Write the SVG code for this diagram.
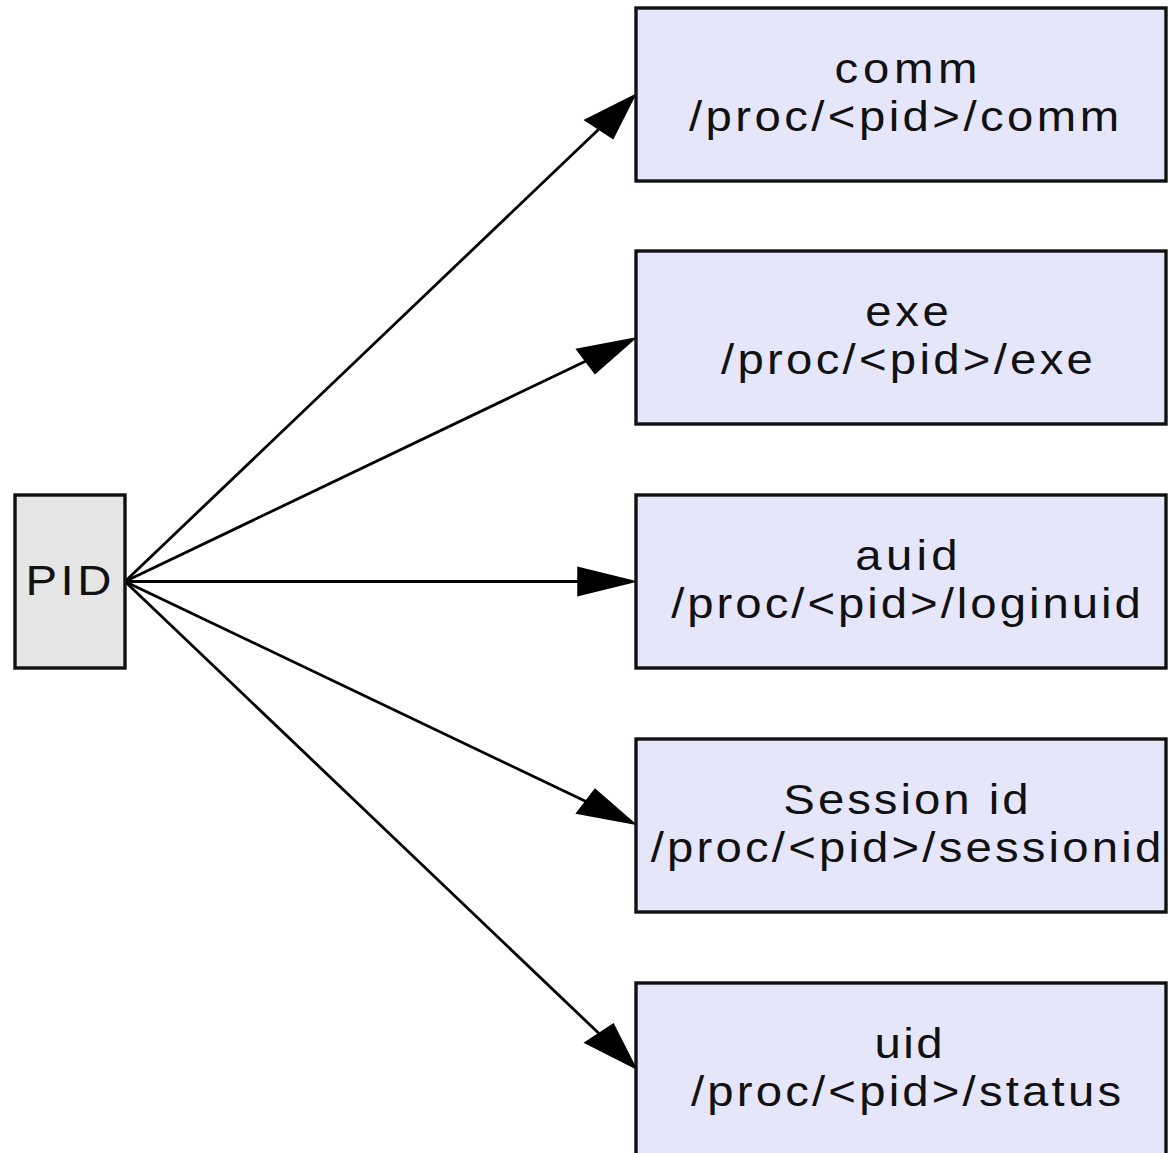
<svg xmlns="http://www.w3.org/2000/svg" width="1168" height="1153" viewBox="0 0 1168 1153">
  <style>
    .box { stroke: #111; stroke-width: 3.4; }
    .src { fill: #e5e5e5; }
    .dst { fill: #e6e6fa; }
    .label { font-family: "Liberation Sans", Arial, sans-serif; font-size: 43px; fill: #111; text-anchor: middle; }
    .edge { stroke: #000; stroke-width: 2.8; fill: none; }
    .head { fill: #000; stroke: #000; stroke-width: 1.5; stroke-linejoin: miter; }
  </style>
  <rect width="1168" height="1153" fill="#ffffff"/>

  <g id="connectors">
    <line class="edge" x1="125" y1="581.5" x2="599" y2="129"/>
    <polygon class="head" points="635,95 585,120 613,138.3"/>
    <line class="edge" x1="125" y1="581.5" x2="586" y2="361"/>
    <polygon class="head" points="635,338.3 576.7,349.3 595,373.3"/>
    <line class="edge" x1="125" y1="581.5" x2="578" y2="581.5"/>
    <polygon class="head" points="635,581.5 578,567.5 578,595.5"/>
    <line class="edge" x1="125" y1="581.5" x2="586" y2="801.5"/>
    <polygon class="head" points="635,824 595,789.3 576.7,813.3"/>
    <line class="edge" x1="125" y1="581.5" x2="599" y2="1033.5"/>
    <polygon class="head" points="636,1068.5 613.3,1024 585,1042.7"/>
  </g>

  <!-- labels are widened 10% horizontally about their centre -->
  <g id="pid">
    <rect class="box src" x="15" y="495" width="110" height="173"/>
    <text class="label" transform="matrix(1.1 0 0 1 -6.85 0)" x="68.5" y="595.5" textLength="78" lengthAdjust="spacing">PID</text>
  </g>

  <g id="comm">
    <rect class="box dst" x="636" y="8" width="530" height="173"/>
    <text class="label" transform="matrix(1.1 0 0 1 -90.6 0)" x="906" y="83.3" textLength="130" lengthAdjust="spacing">comm</text>
    <text class="label" transform="matrix(1.1 0 0 1 -90.4 0)" x="904" y="131.5" textLength="391" lengthAdjust="spacing">/proc/&lt;pid&gt;/comm</text>
  </g>

  <g id="exe">
    <rect class="box dst" x="636" y="251" width="530" height="173"/>
    <text class="label" transform="matrix(1.1 0 0 1 -90.7 0)" x="907" y="326.3" textLength="76" lengthAdjust="spacing">exe</text>
    <text class="label" transform="matrix(1.1 0 0 1 -90.7 0)" x="907" y="374.5" textLength="338" lengthAdjust="spacing">/proc/&lt;pid&gt;/exe</text>
  </g>

  <g id="auid">
    <rect class="box dst" x="636" y="495" width="530" height="173"/>
    <text class="label" transform="matrix(1.1 0 0 1 -90.65 0)" x="906.5" y="570.3" textLength="93" lengthAdjust="spacing">auid</text>
    <text class="label" transform="matrix(1.1 0 0 1 -90.6 0)" x="906" y="618.5" textLength="427" lengthAdjust="spacing">/proc/&lt;pid&gt;/loginuid</text>
  </g>

  <g id="session">
    <rect class="box dst" x="636" y="739" width="530" height="173"/>
    <text class="label" transform="matrix(1.1 0 0 1 -90.6 0)" x="906" y="814.3" textLength="223" lengthAdjust="spacing">Session id</text>
    <text class="label" transform="matrix(1.1 0 0 1 -90.6 0)" x="906" y="862.5" textLength="464" lengthAdjust="spacing">/proc/&lt;pid&gt;/sessionid</text>
  </g>

  <g id="uid">
    <rect class="box dst" x="636" y="983" width="530" height="173"/>
    <text class="label" transform="matrix(1.1 0 0 1 -90.85 0)" x="908.5" y="1058.3" textLength="62" lengthAdjust="spacing">uid</text>
    <text class="label" transform="matrix(1.1 0 0 1 -90.6 0)" x="906" y="1106.5" textLength="391" lengthAdjust="spacing">/proc/&lt;pid&gt;/status</text>
  </g>
</svg>
